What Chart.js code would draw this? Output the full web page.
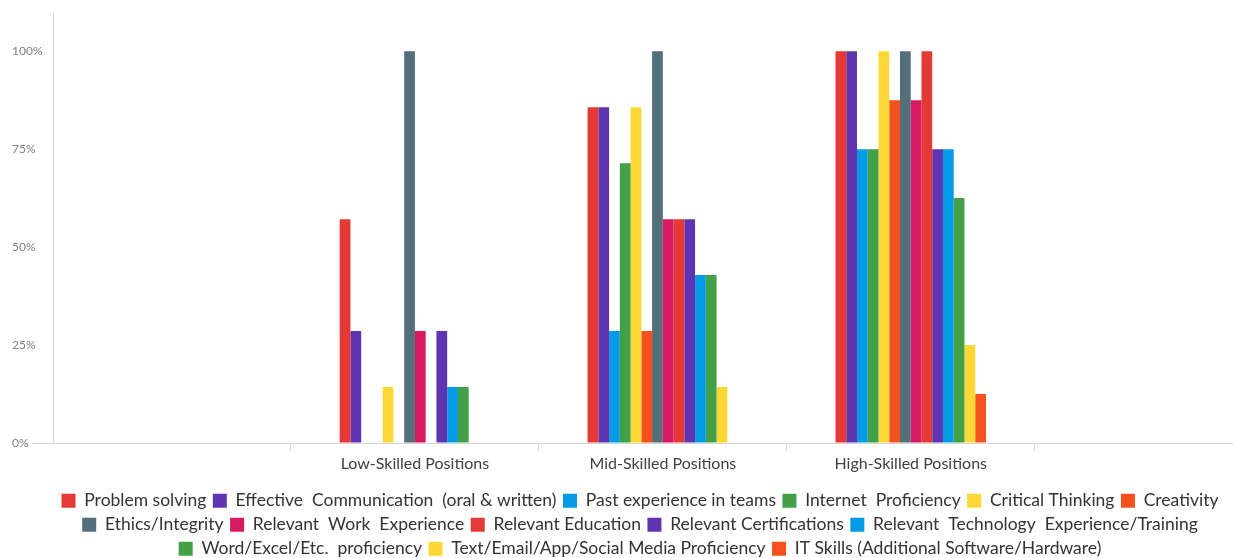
<!DOCTYPE html>
<html>
<head>
<meta charset="utf-8">
<script src="https://cdn.jsdelivr.net/npm/chart.js@4"></script>
<style>
  html, body { margin: 0; padding: 0; background: #fff; }
  #chart { display: block; }
</style>
</head>
<body>
<canvas id="chart" width="1233" height="558"></canvas>
<script>
// positions on the x axis
const categories = ['Low-Skilled Positions', 'Mid-Skilled Positions', 'High-Skilled Positions'];
const yTicks = [0, 25, 50, 75, 100];

const seriesNames = [
  'Problem solving',
  'Effective  Communication  (oral & written)',
  'Past experience in teams',
  'Internet  Proficiency',
  'Critical Thinking',
  'Creativity',
  'Ethics/Integrity',
  'Relevant  Work  Experience',
  'Relevant Education',
  'Relevant Certifications',
  'Relevant  Technology  Experience/Training',
  'Word/Excel/Etc.  proficiency',
  'Text/Email/App/Social Media Proficiency',
  'IT Skills (Additional Software/Hardware)'
];

// percent values per series: low, mid, high
const problemSolving = [57.1, 85.7, 100];
const effectiveCommunication = [28.6, 85.7, 100];
const pastExperience = [0, 28.6, 75];
const internetProficiency = [0, 71.4, 75];
const criticalThinking = [14.3, 85.7, 100];
const creativity = [0, 28.6, 87.5];
const ethicsIntegrity = [100, 100, 100];
const workExperience = [28.6, 57.1, 87.5];
const relevantEducation = [0, 57.1, 100];
const certifications = [28.6, 57.1, 75];
const technologyExperience = [14.3, 42.9, 75];
const officeProficiency = [14.3, 42.9, 62.5];
const socialMediaProficiency = [0, 14.3, 25];
const itSkills = [0, 0, 12.5];

const seriesValues = [
  problemSolving, effectiveCommunication, pastExperience, internetProficiency,
  criticalThinking, creativity, ethicsIntegrity, workExperience,
  relevantEducation, certifications, technologyExperience, officeProficiency,
  socialMediaProficiency, itSkills
];

const colors = [
  '#e53935', '#5e35b1', '#039be5', '#43a047', '#fdd835', '#f4511e', '#546e7a',
  '#d81b60', '#e53935', '#5e35b1', '#039be5', '#43a047', '#fdd835', '#f4511e'
];

const datasets = seriesNames.map((name, i) => ({
  label: name,
  data: seriesValues[i].map((v, j) => ({ x: j + 1, y: v })),
  backgroundColor: colors[i],
  borderWidth: 0
}));

const ctx = document.getElementById('chart').getContext('2d');
new Chart(ctx, {
  type: 'bar',
  data: { datasets },
  options: {
    responsive: false,
    animation: false,
    categoryPercentage: 0.607,
    barPercentage: 1,
    layout: {
      // negative right pad only shifts the legend, chart area stays at the edge
      padding: { left: 12, right: -35, top: 12, bottom: -9.5 }
    },
    plugins: {
      tooltip: { enabled: false },
      legend: {
        position: 'bottom',
        labels: {
          boxWidth: 14,
          boxHeight: 14,
          padding: 6.5,
          color: '#333',
          font: { family: 'Lato', size: 17.5 }
        }
      }
    },
    scales: {
      x: {
        type: 'linear',
        offset: false,
        min: -0.46,
        max: 4.3,
        afterBuildTicks: (scale) => {
          scale.ticks = categories.map((c, i) => ({ value: i + 1 }));
        },
        afterFit: (scale) => { scale.height = 42.5; },
        grid: {
          offset: true,
          drawOnChartArea: false,
          tickLength: 8,
          color: '#d6d6d6'
        },
        border: { color: '#d6d6d6' },
        ticks: {
          padding: 3,
          color: '#404040',
          font: { family: 'Lato', size: 16 },
          callback: (v) => categories[v - 1] || ''
        }
      },
      y: {
        min: 0,
        max: 110,
        afterBuildTicks: (scale) => {
          scale.ticks = yTicks.map(v => ({ value: v }));
        },
        afterFit: (scale) => { scale.width = 41; },
        grid: {
          drawOnChartArea: false,
          tickLength: 21,
          color: (c) => (c.tick && c.tick.value === 0 ? '#d6d6d6' : 'rgba(0,0,0,0)')
        },
        border: { color: '#d6d6d6' },
        ticks: {
          crossAlign: 'far',
          color: '#808080',
          font: { family: 'Lato', size: 12 },
          callback: (v) => v + '%'
        }
      }
    }
  }
});
</script>
</body>
</html>
